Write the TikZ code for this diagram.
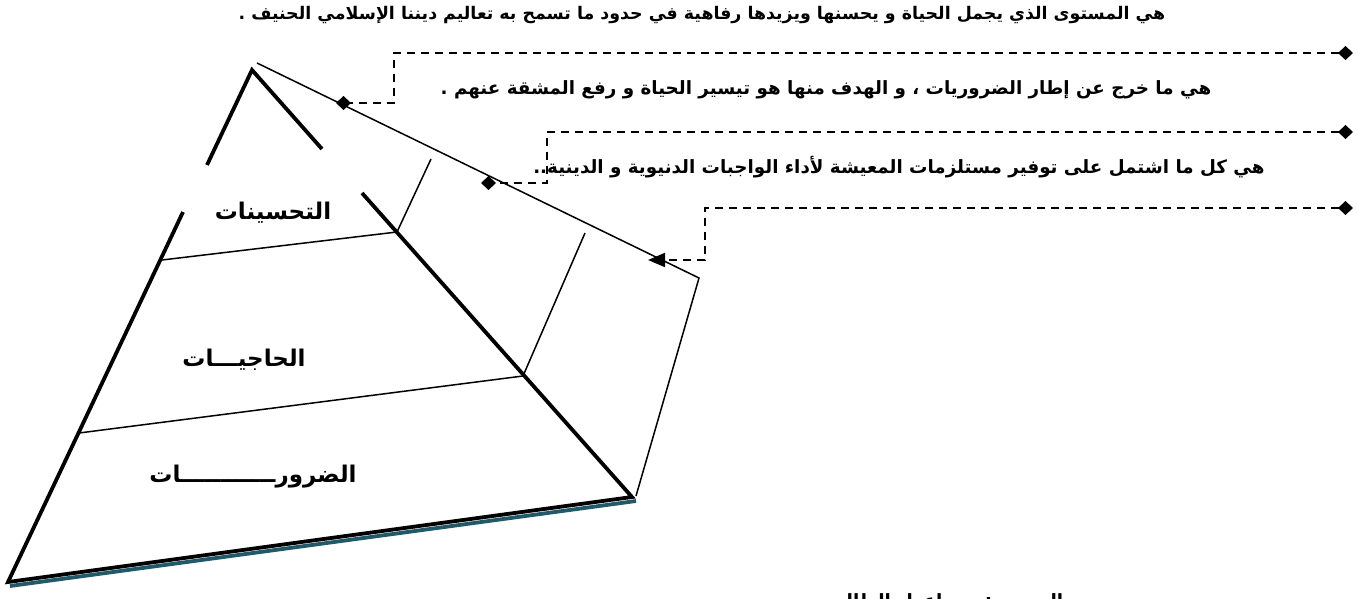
\documentclass[tikz,border=0pt]{standalone}
\usepackage{fontspec}
\usetikzlibrary{arrows.meta,calc}
\newfontfamily\arabicfont[Script=Arabic]{DejaVu Sans}
\TeXXeTstate=1
\definecolor{shadowteal}{RGB}{33,89,104}
\begin{document}
\begin{tikzpicture}[x=1pt,y=-1pt,
  edge/.style={line width=3.8pt},
  thinline/.style={line width=1.5pt},
  conn/.style={line width=1.9pt, dash pattern=on 8pt off 6pt},
  artext/.style={inner sep=0pt, font=\arabicfont\bfseries\fontsize{18.3}{21}\selectfont},
  lbl/.style={inner sep=0pt, font=\arabicfont\bfseries\fontsize{23}{26}\selectfont}]
\useasboundingbox (0,0) rectangle (1358,599);
% pyramid points
\coordinate (apex) at (252,70);
\coordinate (BL) at (8,582);
\coordinate (BR) at (632,497);
\coordinate (Lgt) at (207,165);
\coordinate (Lgb) at (183,212);
\coordinate (Rgt) at (322,149);
\coordinate (Rgb) at (362,193);
\coordinate (d1l) at (162,260);
\coordinate (d1r) at (397,232);
\coordinate (d2l) at (79,433);
\coordinate (d2r) at (523,376);
\coordinate (k1) at (431,159);
\coordinate (k2) at (585,233);
\coordinate (k3b) at (636,496);
\coordinate (k3t) at (699,278);
\coordinate (topl) at (257,63);
% shadow
\draw[shadowteal, line width=3.8pt] ($(BL)+(2,4)$) -- ($(BR)+(4,4)$);
% pyramid edges
\draw[edge, line join=miter] (Lgb) -- (BL) -- (BR) -- (Rgb);
\draw[edge, line join=miter] (Lgt) -- (apex) -- (Rgt);
% inner lines
\draw[thinline] (d1l) -- (d1r) -- (k1);
\draw[thinline] (d2l) -- (d2r) -- (k2);
\draw[thinline] (k3b) -- (k3t) -- (topl);
% connectors
\coordinate (c1r) at (1353,53);
\coordinate (c1v) at (394,103);
\coordinate (c1l) at (336,103);
\coordinate (c2r) at (1353,132);
\coordinate (c2v) at (547,183);
\coordinate (c2l) at (481,183);
\coordinate (c3r) at (1353,208);
\coordinate (c3v) at (705,260);
\coordinate (c3l) at (648,260);
\draw[conn, {Diamond[length=15pt,width=14pt]}-{Diamond[length=15pt,width=14pt]}] (c1r) -| (c1v) -- (c1l);
\draw[conn, {Diamond[length=15pt,width=14pt]}-{Diamond[length=15pt,width=14pt]}] (c2r) -| (c2v) -- (c2l);
\draw[conn, {Diamond[length=15pt,width=14pt]}-{Triangle[length=17pt,width=14pt]}] (c3r) -| (c3v) -- (c3l);
% texts
\node[artext, font=\arabicfont\bfseries\fontsize{17.4}{20}\selectfont] (t1) at (702,15) {\beginR هي المستوى الذي يجمل الحياة و يحسنها ويزيدها رفاهية في حدود ما تسمح به تعاليم ديننا الإسلامي الحنيف .\endR};
\node[artext] (t2) at (826,90) {\beginR هي ما خرج عن إطار الضروريات ، و الهدف منها هو تيسير الحياة و رفع المشقة عنهم .\endR};
\node[artext] (t3) at (899,167) {\beginR هي كل ما اشتمل على توفير مستلزمات المعيشة لأداء الواجبات الدنيوية و الدينية..\endR};
\node[lbl] (l1) at (273,213) {\beginR التحسينات\endR};
\node[lbl] (l2) at (244,360) {\beginR الحاجيـــات\endR};
\node[lbl] (l3) at (253,477) {\beginR الضرورــــــــــــات\endR};
\node[artext, anchor=base] (src) at (945,607) {\beginR المصدر : من إعداد الطالب\endR};
\end{tikzpicture}
\end{document}
